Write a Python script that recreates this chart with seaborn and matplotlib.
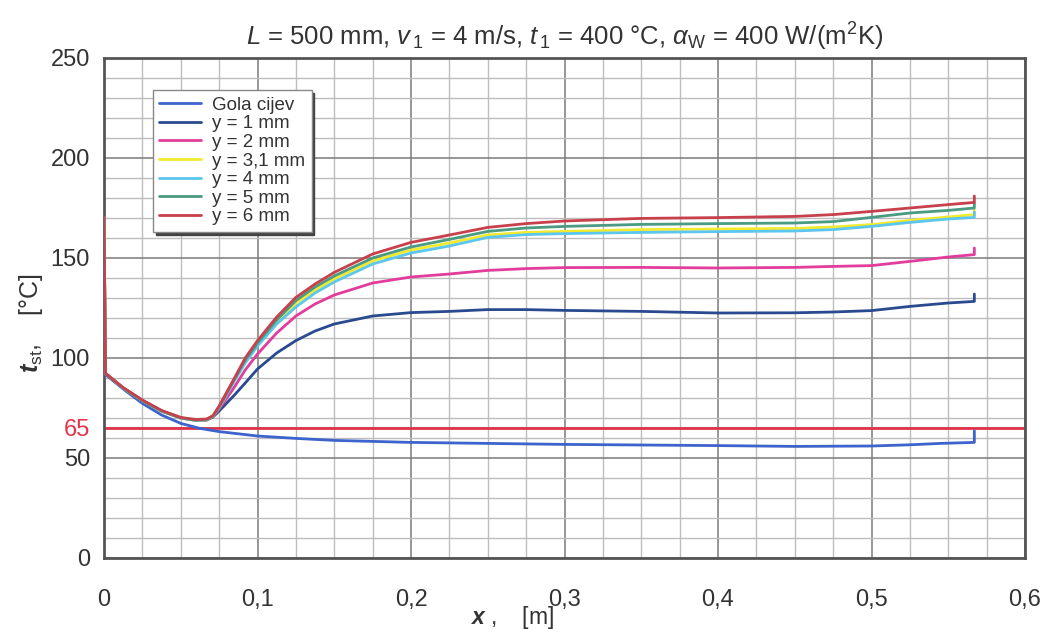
import numpy as np
import pandas as pd
import matplotlib
matplotlib.use("Agg")
import matplotlib.pyplot as plt
import matplotlib.font_manager as fm
import seaborn as sns
from matplotlib.ticker import MultipleLocator

# ---------------- data ----------------
x_gola = [0.0, 0.0125, 0.025, 0.0375, 0.05, 0.0625, 0.075, 0.1, 0.125, 0.15, 0.2, 0.25,
          0.3, 0.35, 0.4, 0.45, 0.5, 0.525, 0.545, 0.567, 0.567]
t_gola = [92.3, 84.5, 77.3, 71.5, 67.3, 64.8, 63.2, 61.0, 59.8, 58.8, 57.8, 57.3,
          56.8, 56.5, 56.2, 55.8, 56.0, 56.6, 57.3, 57.8, 63.6]

x_fin = [0.0, 0.001, 0.0125, 0.025, 0.0375, 0.05, 0.06, 0.067, 0.071,
         0.075, 0.08, 0.085, 0.092, 0.1, 0.1125, 0.125, 0.1375, 0.15, 0.175, 0.2,
         0.225, 0.25, 0.275, 0.3, 0.35, 0.4, 0.45, 0.475, 0.5, 0.525, 0.55, 0.567, 0.567]

t_y1 = [170, 92.3, 85.0, 78.7, 73.5, 70.0, 68.8, 69.0, 70.5,
        73.5, 77.5, 81.5, 87.5, 94.5, 102.5, 108.7, 113.5, 117.0, 121.0, 122.7,
        123.3, 124.2, 124.2, 123.8, 123.3, 122.5, 122.6, 123.0, 123.7, 125.8, 127.5, 128.3, 132.0]
t_y2 = [170, 92.3, 85.0, 78.7, 73.5, 70.0, 68.8, 69.1, 70.8,
        74.5, 80.0, 85.5, 94.0, 102.0, 112.5, 121.0, 127.0, 131.5, 137.5, 140.5,
        142.0, 143.8, 144.7, 145.2, 145.3, 145.0, 145.3, 145.8, 146.2, 148.3, 150.5, 151.7, 155.0]
t_y31 = [170, 92.3, 85.0, 78.7, 73.5, 70.0, 68.8, 69.2, 71.0,
         75.3, 82.0, 89.0, 98.0, 106.5, 118.0, 127.5, 134.0, 139.5, 148.5, 154.0,
         157.5, 161.5, 162.8, 163.3, 164.2, 164.5, 164.8, 165.5, 166.7, 168.8, 170.5, 171.7, 174.0]
t_y4 = [170, 92.3, 85.0, 78.7, 73.5, 70.0, 68.8, 69.2, 71.0,
        75.2, 81.8, 88.5, 97.5, 106.0, 117.0, 125.5, 132.5, 138.0, 147.0, 152.5,
        156.0, 160.3, 161.7, 162.2, 162.8, 163.2, 163.5, 164.2, 165.8, 167.8, 169.5, 170.3, 173.0]
t_y5 = [170, 92.3, 85.0, 78.7, 73.5, 70.0, 68.9, 69.3, 71.0,
        75.5, 82.5, 89.5, 99.0, 107.5, 119.0, 128.7, 135.5, 141.0, 150.0, 155.5,
        159.3, 163.3, 165.0, 165.8, 166.8, 167.2, 167.5, 168.2, 170.3, 172.5, 173.8, 175.0, 177.5]
t_y6 = [170, 92.3, 85.2, 79.0, 73.8, 70.3, 69.2, 69.5, 71.2,
        76.0, 83.0, 90.0, 100.0, 108.7, 120.5, 130.3, 137.0, 142.8, 152.0, 157.8,
        161.5, 165.3, 167.2, 168.5, 169.8, 170.2, 170.8, 171.7, 173.3, 175.0, 176.7, 177.8, 181.0]

series_names = ["Gola cijev", "y = 1 mm", "y = 2 mm", "y = 3,1 mm", "y = 4 mm", "y = 5 mm", "y = 6 mm"]
series_x = [x_gola, x_fin, x_fin, x_fin, x_fin, x_fin, x_fin]
series_t = [t_gola, t_y1, t_y2, t_y31, t_y4, t_y5, t_y6]
colors = ["#3d63cc", "#2a4a90", "#e23c9c", "#f2ea2c", "#5cc6ee", "#4b9a82", "#c8404c"]

t_limit = 65
x_ticks = [0, 0.1, 0.2, 0.3, 0.4, 0.5, 0.6]
x_ticklabels = ["0", "0,1", "0,2", "0,3", "0,4", "0,5", "0,6"]
y_ticks = [0, 50, 65, 100, 150, 200, 250]
y_ticklabels = ["0", "50", "65", "100", "150", "200", "250"]

# ---------------- style ----------------
sns.set_theme(style="white")
names = {f.name for f in fm.fontManager.ttflist}
base = "Liberation Sans Narrow" if "Liberation Sans Narrow" in names else "Liberation Sans"
plt.rcParams["font.family"] = [base, "DejaVu Sans"]
plt.rcParams["mathtext.fontset"] = "custom"
plt.rcParams["mathtext.rm"] = base
plt.rcParams["mathtext.it"] = base + ":italic"
plt.rcParams["mathtext.bf"] = base + ":bold"
plt.rcParams["mathtext.bfit"] = base + ":italic:bold"

fig = plt.figure(figsize=(10.46, 6.32), dpi=100)
ax = fig.add_axes([104 / 1046, 1 - 558 / 632, (1025 - 104) / 1046, 500 / 632])

# grid
ax.set_xlim(0, 0.6)
ax.set_ylim(0, 250)
ax.xaxis.set_minor_locator(MultipleLocator(0.025))
ax.yaxis.set_minor_locator(MultipleLocator(10))
ax.grid(which="minor", color="#bdbdbd", lw=1.0)
ax.grid(which="major", color="#7a7a7a", lw=1.1)
ax.set_axisbelow(True)

ax.axhline(t_limit, color="#e2334b", lw=2.0, zorder=2)

for name, xs, ts, c in zip(series_names, series_x, series_t, colors):
    df = pd.DataFrame({"x": xs, "t": ts})
    sns.lineplot(data=df, x="x", y="t", estimator=None, sort=False, color=c,
                 lw=2.0, label=name, ax=ax, zorder=3)

ax.set_xticks(x_ticks)
ax.set_xticklabels(x_ticklabels)
ax.set_yticks(y_ticks)
ax.set_yticklabels(y_ticklabels)
ax.tick_params(axis="both", which="major", labelsize=17, colors="#333333",
               length=5, width=1, direction="out", pad=5)
ax.tick_params(axis="x", which="major", pad=17)
ax.tick_params(axis="both", which="minor", length=0)
for lbl in ax.get_yticklabels():
    if lbl.get_text() == "65":
        lbl.set_color("#e2334b")

for sp in ax.spines.values():
    sp.set_color("#555555")
    sp.set_linewidth(2)

ax.set_title(r"$L$ = 500 mm, $v_{\,1}$ = 4 m/s, $t_{\,1}$ = 400 °C, $\alpha_{\mathrm{W}}$ = 400 W/(m$^{2}$K)",
             fontsize=18.5, color="#333333", pad=9)
ax.set_xlabel(r"$\mathbfit{x}$ ,    [m]", fontsize=16.5, color="#333333", labelpad=-5, x=0.443)
ax.set_ylabel(r"$\mathbfit{t}_{\mathrm{st}}$,    [°C]", fontsize=18, color="#333333", labelpad=4, y=0.47)

leg = ax.legend(loc="upper left", bbox_to_anchor=(0.053, 0.936), fontsize=13.5,
                frameon=True, fancybox=False, shadow={"color": "#444444", "alpha": 1.0},
                borderpad=0.35, labelspacing=0.08, handlelength=2.2, handletextpad=0.6,
                borderaxespad=0)
leg.get_frame().set_edgecolor("#888888")
leg.get_frame().set_linewidth(1)
leg.get_frame().set_alpha(1.0)
for t in leg.get_texts():
    t.set_color("#333333")

fig.savefig("out.png", dpi=100)
